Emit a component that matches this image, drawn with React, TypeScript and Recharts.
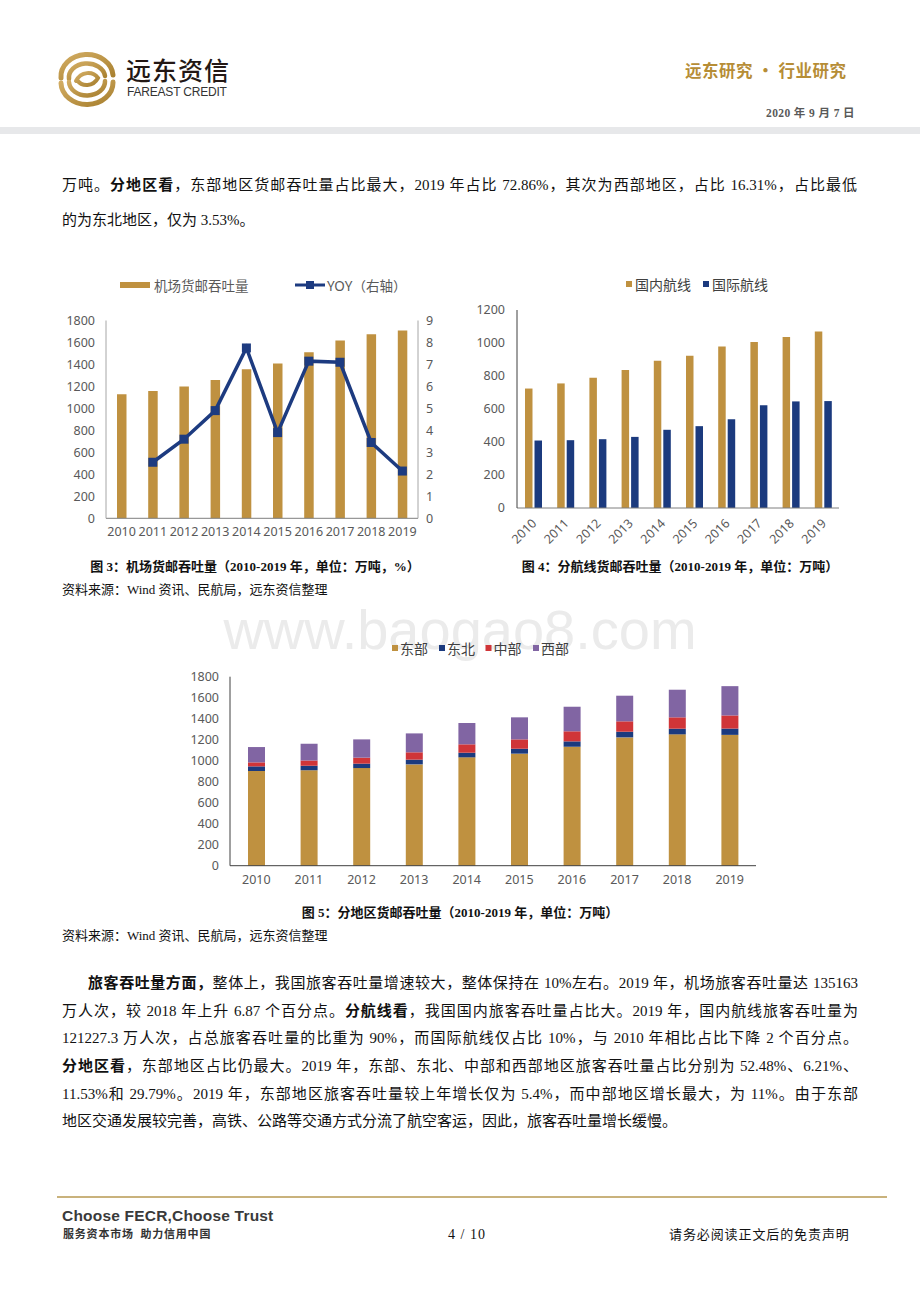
import React from "react";
import { Bar, BarChart, ComposedChart, Line, XAxis, YAxis } from "recharts";

const YEARS = ["2010", "2011", "2012", "2013", "2014", "2015", "2016", "2017", "2018", "2019"];

// 图3 机场货邮吞吐量（万吨）与同比（%）
const CARGO_TOTAL = [1129, 1158, 1199, 1258, 1356, 1409, 1510, 1618, 1674, 1710];
const CARGO_YOY = [null, 2.55, 3.6, 4.9, 7.75, 3.9, 7.15, 7.1, 3.45, 2.15];

// 图4 分航线
const DOMESTIC = [724, 755, 789, 836, 892, 923, 979, 1006, 1036, 1070];
const INTERNATIONAL = [409, 411, 417, 431, 474, 496, 538, 623, 646, 648];

// 图5 分地区（堆积）
const EAST = [902, 908, 930, 965, 1032, 1067, 1133, 1222, 1251, 1246];
const NORTHEAST = [44, 45, 42, 45, 44, 47, 51, 54, 54, 60];
const CENTRAL = [38, 50, 57, 70, 80, 89, 96, 99, 108, 125];
const WEST = [146, 159, 174, 180, 203, 210, 234, 244, 263, 279];

const TICKS_1800 = [0, 200, 400, 600, 800, 1000, 1200, 1400, 1600, 1800];
const TICKS_9 = [0, 1, 2, 3, 4, 5, 6, 7, 8, 9];
const TICKS_1200 = [0, 200, 400, 600, 800, 1000, 1200];

const GOLD = "#bf9140";
const NAVY = "#1b3a7e";
const LINE_NAVY = "#1d3b80";
const RED = "#d03538";
const PURPLE = "#8165a3";
const AXIS_TEXT = "#595959";

const CHART_FONT = '"Noto Sans", "Noto Sans CJK SC", sans-serif';
const BODY_FONT = '"Liberation Serif", "Noto Sans CJK SC", serif';

const cargoData = YEARS.map((y, i) => ({ year: y, total: CARGO_TOTAL[i], yoy: CARGO_YOY[i] }));
const routeData = YEARS.map((y, i) => ({ year: y, domestic: DOMESTIC[i], intl: INTERNATIONAL[i] }));
const regionData = YEARS.map((y, i) => ({
  year: y,
  east: EAST[i],
  ne: NORTHEAST[i],
  central: CENTRAL[i],
  west: WEST[i],
}));

const tickStyle = { fontSize: 12.5, fill: AXIS_TEXT, fontFamily: CHART_FONT };

function SquareDot(props: any) {
  const { cx, cy, value } = props;
  if (value == null || cx == null || cy == null) return null;
  return <rect x={cx - 4.5} y={cy - 4.5} width={9} height={9} fill={LINE_NAVY} />;
}

function RotatedTick(props: any) {
  const { x, y, payload } = props;
  const ax = x + 1;
  const ay = y + 5;
  return (
    <text
      x={ax}
      y={ay}
      transform={`rotate(-45, ${ax}, ${ay})`}
      textAnchor="end"
      dominantBaseline="central"
      fontSize={12.5}
      fill={AXIS_TEXT}
      fontFamily={CHART_FONT}
    >
      {payload.value}
    </text>
  );
}

function abs(left: number, top: number, extra: React.CSSProperties = {}): React.CSSProperties {
  return { position: "absolute", left, top, ...extra };
}

function Logo() {
  return (
    <svg width={60} height={56} style={abs(57, 51)} viewBox="0 0 60 56">
      <defs>
        <linearGradient id="lg" x1="0" y1="0" x2="1" y2="1">
          <stop offset="0" stopColor="#d2ac62" />
          <stop offset="1" stopColor="#a8802f" />
        </linearGradient>
      </defs>
      <g fill="none" stroke="url(#lg)" strokeLinecap="round">
        <path d="M4 27 A26 22 0 0 1 56 24" strokeWidth={5} />
        <path d="M56 31 A26 22 0 0 1 4 32" strokeWidth={5} />
        <path d="M12 28 A18 14 0 0 1 48 25" strokeWidth={4.5} />
        <path d="M48 30 A18 14 0 0 1 12 31" strokeWidth={4.5} />
        <path d="M19 30 C24 20 36 20 41 27 C36 36 25 36 20 29" strokeWidth={4} />
      </g>
    </svg>
  );
}

function JLine({ top, left, width, children, last }: any) {
  return (
    <div
      style={abs(left, top, {
        width,
        fontSize: 15,
        lineHeight: "20px",
        textAlign: "justify",
        textAlignLast: last ? "left" : "justify",
        whiteSpace: "nowrap",
        color: "#111",
      })}
    >
      {children}
    </div>
  );
}

function CargoChart() {
  return (
    <div style={abs(50, 270)}>
      <svg width={300} height={30} style={abs(60, 2)}>
        <rect x={10} y={10} width={30} height={6} fill={GOLD} />
        <text x={44} y={14} dominantBaseline="central" fontSize={13.5} fill={AXIS_TEXT} fontFamily={CHART_FONT}>
          机场货邮吞吐量
        </text>
        <line x1={185} y1={13} x2={215} y2={13} stroke={LINE_NAVY} strokeWidth={3} />
        <rect x={196} y={9} width={8} height={8} fill={LINE_NAVY} />
        <text x={217} y={14} dominantBaseline="central" fontSize={13.5} fill={AXIS_TEXT} fontFamily={CHART_FONT}>
          YOY（右轴）
        </text>
      </svg>
      <ComposedChart
        width={400}
        height={280}
        data={cargoData}
        margin={{ top: 50.5, right: 4, left: 16, bottom: 6.7 }}
      >
        <XAxis
          dataKey="year"
          tick={tickStyle}
          tickLine={false}
          axisLine={{ stroke: "#7f7f7f" }}
          tickMargin={3}
          height={25}
          interval={0}
        />
        <YAxis
          yAxisId="left"
          domain={[0, 1800]}
          ticks={TICKS_1800}
          width={40}
          tick={tickStyle}
          tickLine={false}
          axisLine={{ stroke: "#a6a6a6" }}
          tickMargin={5}
        />
        <YAxis
          yAxisId="right"
          orientation="right"
          domain={[0, 9]}
          ticks={TICKS_9}
          width={28}
          tick={tickStyle}
          tickLine={false}
          axisLine={{ stroke: "#a6a6a6" }}
          tickMargin={2}
        />
        <Bar yAxisId="left" dataKey="total" fill={GOLD} barSize={9.5} isAnimationActive={false} />
        <Line
          yAxisId="right"
          type="linear"
          dataKey="yoy"
          stroke={LINE_NAVY}
          strokeWidth={3.5}
          dot={<SquareDot />}
          activeDot={false}
          isAnimationActive={false}
        />
      </ComposedChart>
    </div>
  );
}

function RouteChart() {
  return (
    <div style={abs(460, 270)}>
      <svg width={300} height={30} style={abs(150, 0)}>
        <rect x={16} y={11} width={6} height={6} fill={GOLD} />
        <text x={25} y={14} dominantBaseline="central" fontSize={14} fill="#404040" fontFamily={CHART_FONT}>
          国内航线
        </text>
        <rect x={93} y={11} width={6} height={6} fill={NAVY} />
        <text x={102} y={14} dominantBaseline="central" fontSize={14} fill="#404040" fontFamily={CHART_FONT}>
          国际航线
        </text>
      </svg>
      <BarChart
        width={400}
        height={290}
        data={routeData}
        margin={{ top: 40, right: 21, left: 12, bottom: 12 }}
        barGap={2}
      >
        <XAxis
          dataKey="year"
          tick={<RotatedTick />}
          tickLine={false}
          axisLine={{ stroke: "#7f7f7f" }}
          height={40}
          interval={0}
        />
        <YAxis
          domain={[0, 1200]}
          ticks={TICKS_1200}
          width={45}
          tick={tickStyle}
          tickLine={false}
          axisLine={{ stroke: "#404040" }}
          tickMargin={6}
        />
        <Bar dataKey="domestic" fill={GOLD} barSize={7.5} isAnimationActive={false} />
        <Bar dataKey="intl" fill={NAVY} barSize={7.5} isAnimationActive={false} />
      </BarChart>
    </div>
  );
}

function RegionChart() {
  const items = [
    { label: "东部", color: GOLD, x: 212 },
    { label: "东北", color: NAVY, x: 259 },
    { label: "中部", color: RED, x: 305.5 },
    { label: "西部", color: PURPLE, x: 353 },
  ];
  return (
    <div style={abs(180, 632)}>
      <svg width={500} height={30} style={abs(0, 0)}>
        {items.map((it) => (
          <g key={it.label}>
            <rect x={it.x} y={13} width={6} height={6} fill={it.color} />
            <text
              x={it.x + 8}
              y={16}
              dominantBaseline="central"
              fontSize={14}
              fill="#404040"
              fontFamily={CHART_FONT}
            >
              {it.label}
            </text>
          </g>
        ))}
      </svg>
      <BarChart
        width={600}
        height={270}
        data={regionData}
        margin={{ top: 44.7, right: 24, left: 10, bottom: 6.3 }}
      >
        <XAxis
          dataKey="year"
          tick={tickStyle}
          tickLine={false}
          axisLine={{ stroke: "#404040" }}
          tickMargin={3}
          height={30}
          interval={0}
        />
        <YAxis
          domain={[0, 1800]}
          ticks={TICKS_1800}
          width={40}
          tick={tickStyle}
          tickLine={false}
          axisLine={{ stroke: "#404040" }}
          tickMargin={5}
        />
        <Bar dataKey="east" stackId="r" fill={GOLD} barSize={17} isAnimationActive={false} />
        <Bar dataKey="ne" stackId="r" fill={NAVY} barSize={17} isAnimationActive={false} />
        <Bar dataKey="central" stackId="r" fill={RED} barSize={17} isAnimationActive={false} />
        <Bar dataKey="west" stackId="r" fill={PURPLE} barSize={17} isAnimationActive={false} />
      </BarChart>
    </div>
  );
}

const captionStyle: React.CSSProperties = {
  fontSize: 13,
  fontWeight: "bold",
  color: "#111",
  textAlign: "center",
  lineHeight: "18px",
  whiteSpace: "nowrap",
};

const sourceStyle: React.CSSProperties = {
  fontSize: 13,
  color: "#111",
  lineHeight: "18px",
  whiteSpace: "nowrap",
};

export default function App() {
  return (
    <div
      style={{
        position: "absolute",
        left: 0,
        top: 0,
        width: 920,
        height: 1302,
        background: "#fff",
        overflow: "hidden",
        fontFamily: BODY_FONT,
      }}
    >
      {/* 页眉 */}
      <Logo />
      <div
        style={abs(126, 52, {
          fontFamily: '"Noto Sans CJK SC", sans-serif',
          fontSize: 25,
          fontWeight: 500,
          color: "#231815",
          letterSpacing: 1,
          lineHeight: "34px",
        })}
      >
        远东资信
      </div>
      <div
        style={abs(127, 85, {
          fontFamily: '"Liberation Sans", sans-serif',
          fontSize: 12,
          color: "#333",
          lineHeight: "14px",
          letterSpacing: -0.2,
        })}
      >
        FAREAST CREDIT
      </div>
      <div
        style={abs(685, 59, {
          fontFamily: '"Noto Sans CJK SC", sans-serif',
          fontSize: 16.5,
          fontWeight: "bold",
          color: "#b68d36",
          lineHeight: "22px",
          whiteSpace: "nowrap",
          letterSpacing: 0.5,
        })}
      >
        远东研究 • 行业研究
      </div>
      <div
        style={abs(766, 105, {
          fontSize: 11.5,
          fontWeight: "bold",
          color: "#595959",
          lineHeight: "16px",
          whiteSpace: "nowrap",
          letterSpacing: 0.4,
        })}
      >
        2020 年 9 月 7 日
      </div>
      <div style={abs(0, 127, { width: 920, height: 7, background: "#e7e8ea" })} />

      {/* 正文 1 */}
      <JLine top={175} left={62} width={795}>
        万吨。<b>分地区看</b>，东部地区货邮吞吐量占比最大，2019 年占比 72.86%，其次为西部地区，占比 16.31%，占比最低
      </JLine>
      <JLine top={210} left={62} width={795} last>
        的为东北地区，仅为 3.53%。
      </JLine>

      {/* 图 3 / 图 4 */}
      <CargoChart />
      <RouteChart />
      <div style={abs(60, 558, { ...captionStyle, width: 390 })}>
        图 3：机场货邮吞吐量（2010-2019 年，单位：万吨，%）
      </div>
      <div style={abs(490, 558, { ...captionStyle, width: 380 })}>
        图 4：分航线货邮吞吐量（2010-2019 年，单位：万吨）
      </div>
      <div style={abs(62, 581, sourceStyle)}>资料来源：Wind 资讯、民航局，远东资信整理</div>

      {/* 水印 */}
      <div
        style={abs(0, 598, {
          width: 920,
          textAlign: "center",
          fontFamily: '"Liberation Sans", sans-serif',
          fontSize: 56,
          color: "#ebebeb",
          lineHeight: "64px",
        })}
      >
        www.baogao8.com
      </div>

      {/* 图 5 */}
      <RegionChart />
      <div style={abs(260, 904, { ...captionStyle, width: 400 })}>
        图 5：分地区货邮吞吐量（2010-2019 年，单位：万吨）
      </div>
      <div style={abs(62, 927, sourceStyle)}>资料来源：Wind 资讯、民航局，远东资信整理</div>

      {/* 正文 2 */}
      <JLine top={973} left={88} width={770}>
        <b>旅客吞吐量方面，</b>整体上，我国旅客吞吐量增速较大，整体保持在 10%左右。2019 年，机场旅客吞吐量达 135163
      </JLine>
      <JLine top={1001} left={62} width={796}>
        万人次，较 2018 年上升 6.87 个百分点。<b>分航线看</b>，我国国内旅客吞吐量占比大。2019 年，国内航线旅客吞吐量为
      </JLine>
      <JLine top={1028} left={62} width={796}>
        121227.3 万人次，占总旅客吞吐量的比重为 90%，而国际航线仅占比 10%，与 2010 年相比占比下降 2 个百分点。
      </JLine>
      <JLine top={1056} left={62} width={796}>
        <b>分地区看</b>，东部地区占比仍最大。2019 年，东部、东北、中部和西部地区旅客吞吐量占比分别为 52.48%、6.21%、
      </JLine>
      <JLine top={1084} left={62} width={796}>
        11.53%和 29.79%。2019 年，东部地区旅客吞吐量较上年增长仅为 5.4%，而中部地区增长最大，为 11%。由于东部
      </JLine>
      <JLine top={1111} left={62} width={796} last>
        地区交通发展较完善，高铁、公路等交通方式分流了航空客运，因此，旅客吞吐量增长缓慢。
      </JLine>

      {/* 页脚 */}
      <div style={abs(57, 1196, { width: 830, height: 2, background: "#c9b27c" })} />
      <div
        style={abs(62, 1207, {
          fontFamily: '"Liberation Sans", sans-serif',
          fontSize: 15.5,
          fontWeight: "bold",
          color: "#3a3a3a",
          lineHeight: "18px",
          whiteSpace: "nowrap",
          letterSpacing: 0.2,
        })}
      >
        Choose FECR,Choose Trust
      </div>
      <div
        style={abs(63, 1227, {
          fontFamily: '"Noto Sans CJK SC", sans-serif',
          fontSize: 11,
          fontWeight: "bold",
          color: "#333",
          lineHeight: "13px",
          whiteSpace: "nowrap",
          letterSpacing: 0.8,
        })}
      >
        服务资本市场&nbsp;&nbsp;助力信用中国
      </div>
      <div
        style={abs(448, 1226, {
          fontSize: 14,
          color: "#111",
          lineHeight: "18px",
          whiteSpace: "nowrap",
          letterSpacing: 1,
        })}
      >
        4 / 10
      </div>
      <div
        style={abs(669, 1226, {
          fontSize: 13,
          color: "#111",
          lineHeight: "18px",
          whiteSpace: "nowrap",
          letterSpacing: 0.9,
        })}
      >
        请务必阅读正文后的免责声明
      </div>
    </div>
  );
}
